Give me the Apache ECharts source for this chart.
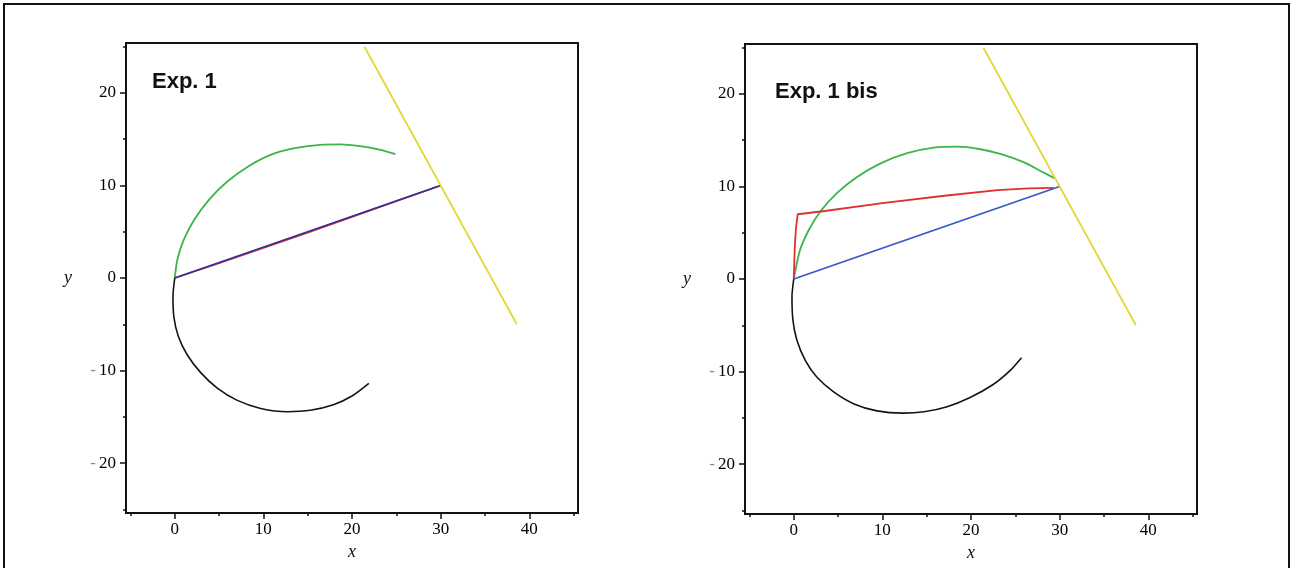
<!DOCTYPE html>
<html>
<head>
<meta charset="utf-8">
<script src="https://cdn.jsdelivr.net/npm/echarts@6/dist/echarts.min.js"></script>
<style>
  html, body { margin: 0; padding: 0; background: #fff; }
  #chart { width: 1295px; height: 568px; }
</style>
</head>
<body>
<div id="chart"></div>
<script>
// ---- Tick values and labels ----
const xMajorTicks = [0, 10, 20, 30, 40];
const xMinorTicks = [-5, 5, 15, 25, 35, 45];
const yMajorTicks = [-20, -10, 0, 10, 20];
const yMinorTicks = [-25, -15, -5, 5, 15, 25];
const panelTitles = ['Exp. 1', 'Exp. 1 bis'];

// ---- Panel 1: Exp. 1 ----
const exp1Black = [[0,0],[-0.2,-2.0],[-0.1,-4.2],[0.4,-6.3],[1.4,-8.3],[2.9,-10.2],[4.8,-11.9],[7.0,-13.2],[9.7,-14.1],[12.7,-14.45],[15.3,-14.3],[17.9,-13.7],[20.1,-12.7],[21.9,-11.4]];
const exp1Green = [[0,0],[0.3,2.0],[1.0,4.1],[2.2,6.3],[3.9,8.5],[5.9,10.4],[8.2,12.0],[10.8,13.3],[13.4,14.0],[16.4,14.4],[18.7,14.45],[20.9,14.25],[23.2,13.85],[24.9,13.4]];
const exp1Red = [[0,0],[5,1.6],[10,3.25],[15,4.9],[20,6.6],[25,8.3],[30,10]];
const exp1Blue = [[0,0],[30,10]];
const exp1Yellow = [[21.4,25],[38.6,-5]];

// ---- Panel 2: Exp. 1 bis ----
const exp1bisBlack = [[0,0],[-0.2,-1.9],[-0.1,-4.4],[0.35,-6.6],[1.3,-8.8],[2.6,-10.6],[4.5,-12.2],[6.8,-13.5],[9.4,-14.25],[12.3,-14.5],[14.7,-14.35],[17.3,-13.8],[19.9,-12.8],[22.5,-11.4],[24.4,-9.9],[25.7,-8.5]];
const exp1bisGreen = [[0,0],[0.7,3.1],[1.7,5.3],[3.0,7.3],[4.9,9.3],[7.1,11.0],[9.8,12.5],[12.8,13.6],[15.8,14.2],[18.5,14.3],[20.9,14.05],[23.4,13.5],[26.0,12.6],[28.0,11.6],[29.4,10.9]];
const exp1bisRed = [[0,0],[0.05,1.5],[0.12,3.5],[0.25,5.5],[0.45,7.0],[3.5,7.35],[10,8.2],[17,9.0],[23,9.6],[26.5,9.8],[29.3,9.85]];
const exp1bisBlue = [[0,0],[30,10]];
const exp1bisYellow = [[21.4,25],[38.6,-5]];

const panels = [
  { black: exp1Black, green: exp1Green, red: exp1Red, blue: exp1Blue, yellow: exp1Yellow, blueColor: '#2e3399' },
  { black: exp1bisBlack, green: exp1bisGreen, red: exp1bisRed, blue: exp1bisBlue, yellow: exp1bisYellow, blueColor: '#3556cc' }
];

const XMIN = -5.5, XMAX = 45.5, YMIN = -25.4, YMAX = 25.4;
const serif = '"Liberation Serif", "DejaVu Serif", serif';

const grids = [
  { left: 126, top: 43, width: 452, height: 470 },
  { left: 745, top: 44, width: 452, height: 470 }
];

const xAxes = [], yAxes = [], series = [];
grids.forEach((g, i) => {
  xAxes.push({
    type: 'value', gridIndex: i, min: XMIN, max: XMAX, position: 'bottom',
    name: 'x', nameLocation: 'middle', nameGap: 29,
    nameTextStyle: { fontFamily: serif, fontStyle: 'italic', fontSize: 18, color: '#111' },
    axisLine: { show: true, onZero: false, lineStyle: { color: '#111', width: 2 } },
    axisTick: { show: true, customValues: xMajorTicks, length: 6, lineStyle: { color: '#111', width: 1.5 } },
    axisLabel: { show: true, customValues: xMajorTicks, margin: 8, fontFamily: serif, fontSize: 17, color: '#000' },
    splitLine: { show: false }
  });
  xAxes.push({
    type: 'value', gridIndex: i, min: XMIN, max: XMAX, position: 'bottom',
    axisLine: { show: false, onZero: false },
    axisTick: { show: true, customValues: xMinorTicks, length: 3, lineStyle: { color: '#111', width: 1.5 } },
    axisLabel: { show: false },
    splitLine: { show: false }
  });
  yAxes.push({
    type: 'value', gridIndex: i, min: YMIN, max: YMAX, position: 'left',
    name: 'y', nameLocation: 'middle', nameGap: 54, nameRotate: 0,
    nameTextStyle: { fontFamily: serif, fontStyle: 'italic', fontSize: 18, color: '#111', padding: [16, 0, 0, 0] },
    axisLine: { show: true, onZero: false, lineStyle: { color: '#111', width: 2 } },
    axisTick: { show: true, customValues: yMajorTicks, length: 6, lineStyle: { color: '#111', width: 1.5 } },
    axisLabel: {
      show: true, customValues: yMajorTicks, margin: 10, fontFamily: serif, fontSize: 17, color: '#000',
      formatter: v => v < 0 ? '{m|-}{n|' + (-v) + '}' : '{n|' + v + '}',
      rich: {
        m: { color: '#888', fontFamily: serif, fontSize: 17, padding: [0, 3, 0, 0] },
        n: { color: '#000', fontFamily: serif, fontSize: 17 }
      }
    },
    splitLine: { show: false }
  });
  yAxes.push({
    type: 'value', gridIndex: i, min: YMIN, max: YMAX, position: 'left',
    axisLine: { show: false, onZero: false },
    axisTick: { show: true, customValues: yMinorTicks, length: 3, lineStyle: { color: '#111', width: 1.5 } },
    axisLabel: { show: false },
    splitLine: { show: false }
  });
});

function lineSeries(idx, data, color, width, smooth, z) {
  return {
    type: 'line', xAxisIndex: idx * 2, yAxisIndex: idx * 2, data: data,
    showSymbol: false, symbol: 'none', smooth: smooth, z: z, silent: true,
    lineStyle: { color: color, width: width },
    animation: false
  };
}

panels.forEach((p, i) => {
  series.push(lineSeries(i, p.black, '#141414', 1.6, 0.25, 2));
  series.push(lineSeries(i, p.green, '#3cb44a', 1.8, 0.25, 3));
  series.push(lineSeries(i, p.red, '#e03030', 1.8, false, 4));
  series.push(lineSeries(i, p.blue, p.blueColor, 1.8, false, 5));
  series.push(lineSeries(i, p.yellow, '#e2d838', 1.8, false, 6));
});

const chart = echarts.init(document.getElementById('chart'), null, { renderer: 'canvas' });
chart.setOption({
  animation: false,
  backgroundColor: '#ffffff',
  grid: grids.map(g => Object.assign({ show: true, borderColor: '#111', borderWidth: 2, backgroundColor: 'transparent' }, g)),
  xAxis: xAxes,
  yAxis: yAxes,
  series: series,
  graphic: [
    { type: 'rect', shape: { x: 4, y: 4, width: 1285, height: 620 }, style: { fill: 'none', stroke: '#111', lineWidth: 2 }, silent: true },
    { type: 'text', left: 152, top: 71, style: { text: panelTitles[0], font: 'bold 22px "Liberation Sans", Arial, sans-serif', fill: '#111' } },
    { type: 'text', left: 775, top: 81, style: { text: panelTitles[1], font: 'bold 22px "Liberation Sans", Arial, sans-serif', fill: '#111' } }
  ]
});
</script>
</body>
</html>
